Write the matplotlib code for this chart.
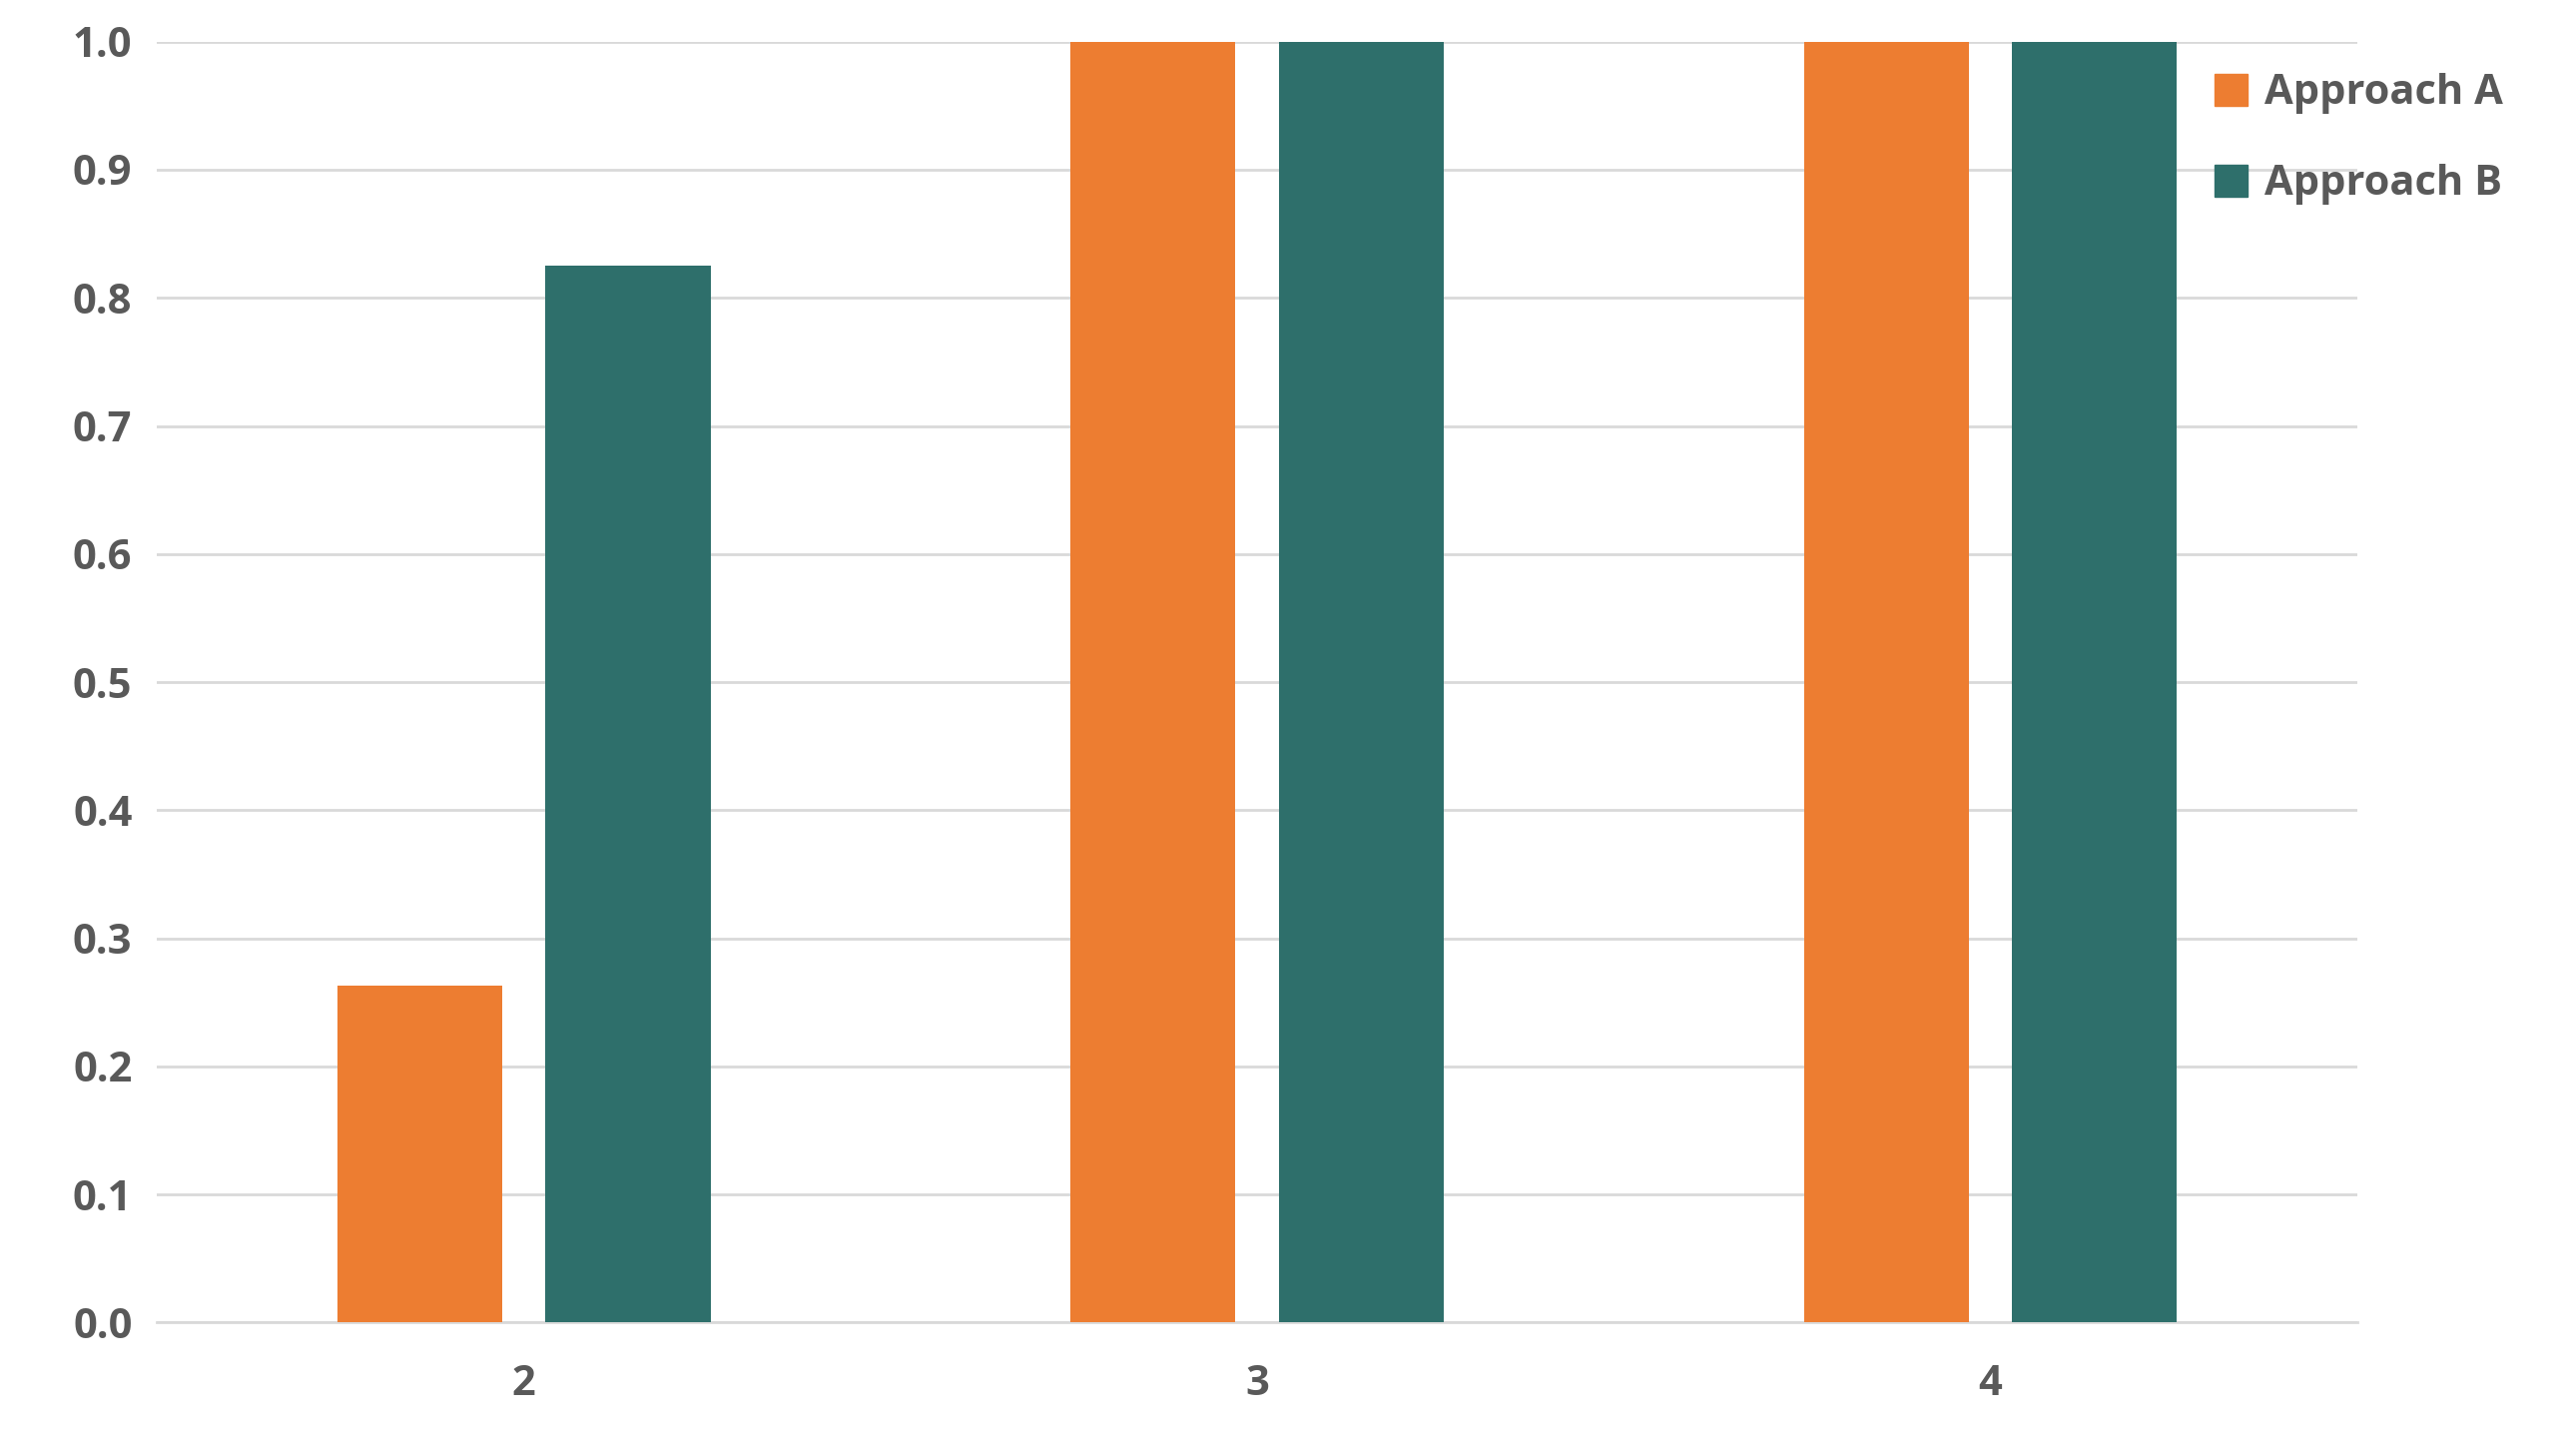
import numpy as np
import matplotlib
matplotlib.use("Agg")
import matplotlib.pyplot as plt
from matplotlib.patches import Patch

categories = ["2", "3", "4"]
approach_a = [0.263, 1.0, 1.0]
approach_b = [0.825, 1.0, 1.0]

ORANGE = "#ED7D31"
TEAL = "#2E6F6B"
TEXT = "#595959"

plt.rcParams['font.family'] = ['Open Sans', 'DejaVu Sans']

fig = plt.figure(figsize=(25.8, 14.38), dpi=100)
ax = fig.add_axes([0.061, 0.079, 0.854, 0.892])

x = np.arange(2, 2 + len(categories))
w = 0.225
off = 0.142
ax.bar(x - off, approach_a, w, color=ORANGE, zorder=3)
ax.bar(x + off, approach_b, w, color=TEAL, zorder=3)

ax.set_xlim(1.5, 4.5)
ax.set_ylim(0, 1.0)
ax.set_yticks(np.arange(0, 1.01, 0.1))
ax.set_yticklabels([f"{v:.1f}" for v in np.arange(0, 1.01, 0.1)])
ax.set_xticks(x)
ax.set_xticklabels(categories)
ax.yaxis.grid(True, color="#D9D9D9", linewidth=2, zorder=0)
for s in ["top", "right", "left"]:
    ax.spines[s].set_visible(False)
ax.spines["bottom"].set_color("#D9D9D9")
ax.spines["bottom"].set_linewidth(2)
ax.tick_params(length=0, labelsize=30, colors=TEXT, pad=18)
for lbl in ax.get_xticklabels() + ax.get_yticklabels():
    lbl.set_fontweight("bold")
ax.tick_params(axis="x", pad=30)

handles = [Patch(color=ORANGE, label="Approach A"), Patch(color=TEAL, label="Approach B")]
leg = fig.legend(handles=handles, loc="upper left", bbox_to_anchor=(0.845, 0.975),
                 frameon=False, prop={"size": 30, "weight": "bold"},
                 handlelength=0.8, handleheight=0.8, labelspacing=1.2, handletextpad=0.4)
for t in leg.get_texts():
    t.set_color(TEXT)

fig.savefig("out.png", dpi=100)
